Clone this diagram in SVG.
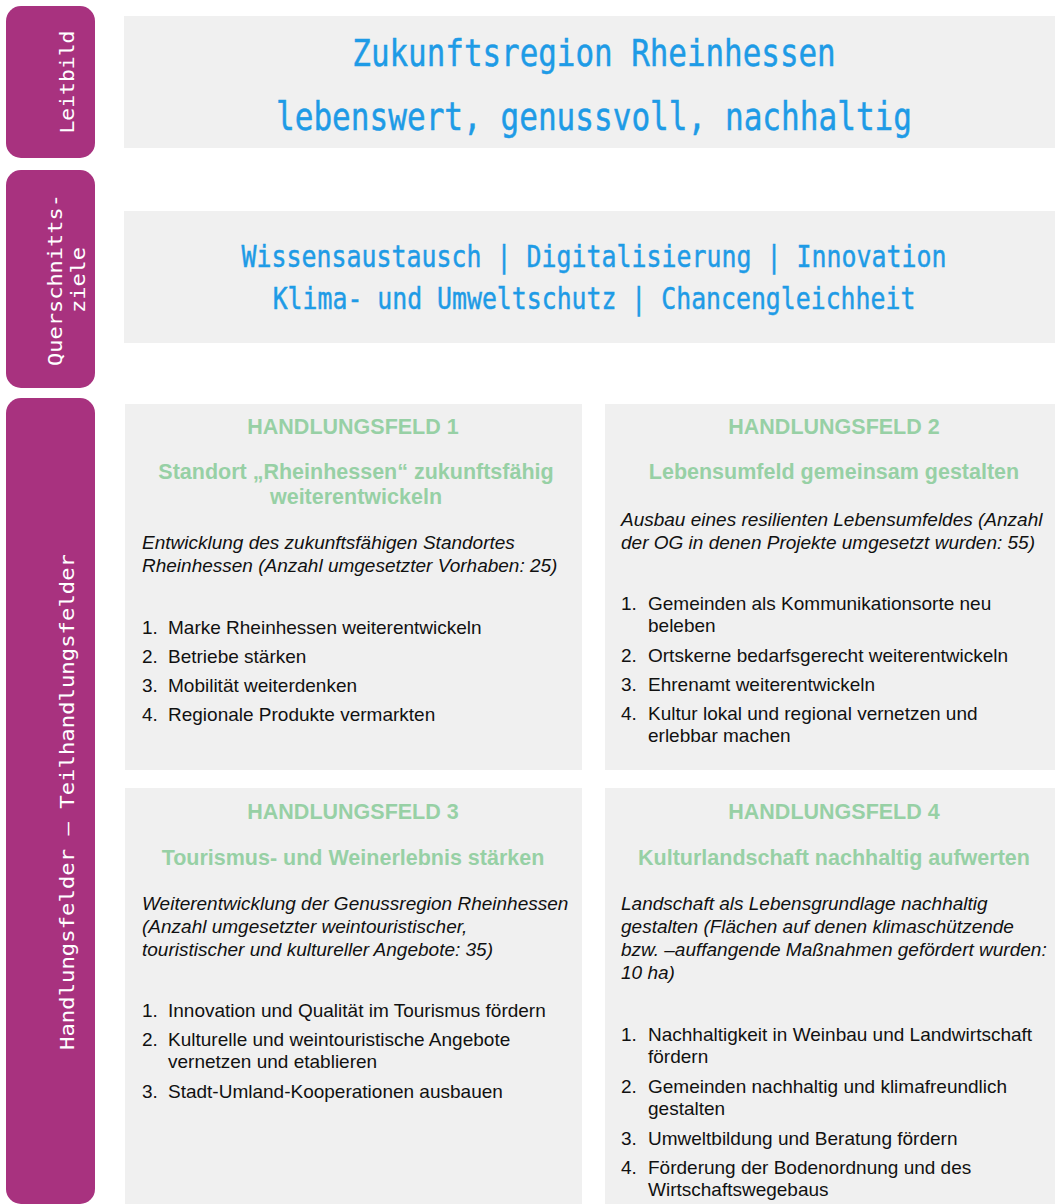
<svg xmlns="http://www.w3.org/2000/svg" width="1055" height="1204" viewBox="0 0 1055 1204">
<style>
.side{fill:#A8327F}
.panel{fill:#F0F0F0}
.lbl{font-family:"DejaVu Sans Mono","Liberation Mono",monospace;fill:#FFFFFF;font-size:19px;text-anchor:middle}
.ttl{font-family:"DejaVu Sans Mono","Liberation Mono",monospace;fill:#1E9BE6;text-anchor:middle;stroke:#1E9BE6;stroke-width:0.5}
.hd{font-family:"Liberation Sans",Arial,sans-serif;font-weight:bold;fill:#97D0A5;text-anchor:middle;font-size:21.5px}
.it{font-family:"Liberation Sans",Arial,sans-serif;font-style:italic;font-size:19px;fill:#111}
.li{font-family:"Liberation Sans",Arial,sans-serif;font-size:19px;fill:#111}
</style>
<rect width="1055" height="1204" fill="#FFFFFF"/>
<g id="leitbild-label">
<rect class="side" x="6" y="6" width="89" height="152" rx="15"/>
<text class="lbl" transform="translate(74,82) rotate(-90)" textLength="103" lengthAdjust="spacingAndGlyphs">Leitbild</text>
</g>
<g id="querschnitt-label">
<rect class="side" x="6" y="170" width="89" height="218" rx="15"/>
<text class="lbl" transform="translate(62,280) rotate(-90)" textLength="172" lengthAdjust="spacingAndGlyphs">Querschnitts-</text>
<text class="lbl" transform="translate(85,280) rotate(-90)" textLength="66" lengthAdjust="spacingAndGlyphs">ziele</text>
</g>
<g id="handlungsfelder-label">
<rect class="side" x="6" y="398" width="89" height="806" rx="15"/>
<text class="lbl" transform="translate(74,802) rotate(-90)" textLength="496" lengthAdjust="spacingAndGlyphs">Handlungsfelder – Teilhandlungsfelder</text>
</g>
<g id="leitbild">
<rect class="panel" x="124" y="16" width="931" height="132"/>
<text class="ttl" transform="translate(594,66) scale(0.813,1)" font-size="38">Zukunftsregion Rheinhessen</text>
<text class="ttl" transform="translate(594,130) scale(0.797,1)" font-size="39">lebenswert, genussvoll, nachhaltig</text>
</g>
<g id="querschnittsziele">
<rect class="panel" x="124" y="211" width="931" height="132"/>
<text class="ttl" transform="translate(594,267) scale(0.804,1)" font-size="31">Wissensaustausch | Digitalisierung | Innovation</text>
<text class="ttl" transform="translate(594,309) scale(0.801,1)" font-size="31">Klima- und Umweltschutz | Chancengleichheit</text>
</g>
<g id="handlungsfeld-1">
<rect class="panel" x="125" y="404" width="457" height="366"/>
<text class="hd" x="353" y="434">HANDLUNGSFELD 1</text>
<text class="hd" x="356" y="479">Standort „Rheinhessen“ zukunftsfähig</text>
<text class="hd" x="356" y="504">weiterentwickeln</text>
<text class="it" x="142" y="549">Entwicklung des zukunftsfähigen Standortes</text>
<text class="it" x="142" y="572">Rheinhessen (Anzahl umgesetzter Vorhaben: 25)</text>
<text class="li" x="142" y="634">1.</text><text class="li" x="168" y="634">Marke Rheinhessen weiterentwickeln</text>
<text class="li" x="142" y="663">2.</text><text class="li" x="168" y="663">Betriebe stärken</text>
<text class="li" x="142" y="692">3.</text><text class="li" x="168" y="692">Mobilität weiterdenken</text>
<text class="li" x="142" y="721">4.</text><text class="li" x="168" y="721">Regionale Produkte vermarkten</text>
</g>
<g id="handlungsfeld-2">
<rect class="panel" x="605" y="404" width="450" height="366"/>
<text class="hd" x="834" y="434">HANDLUNGSFELD 2</text>
<text class="hd" x="834" y="479">Lebensumfeld gemeinsam gestalten</text>
<text class="it" x="621" y="526">Ausbau eines resilienten Lebensumfeldes (Anzahl</text>
<text class="it" x="621" y="549">der OG in denen Projekte umgesetzt wurden: 55)</text>
<text class="li" x="621" y="610">1.</text><text class="li" x="648" y="610">Gemeinden als Kommunikationsorte neu</text>
<text class="li" x="648" y="632">beleben</text>
<text class="li" x="621" y="662">2.</text><text class="li" x="648" y="662">Ortskerne bedarfsgerecht weiterentwickeln</text>
<text class="li" x="621" y="691">3.</text><text class="li" x="648" y="691">Ehrenamt weiterentwickeln</text>
<text class="li" x="621" y="720">4.</text><text class="li" x="648" y="720">Kultur lokal und regional vernetzen und</text>
<text class="li" x="648" y="742">erlebbar machen</text>
</g>
<g id="handlungsfeld-3">
<rect class="panel" x="125" y="788" width="457" height="416"/>
<text class="hd" x="353" y="819">HANDLUNGSFELD 3</text>
<text class="hd" x="353" y="865">Tourismus- und Weinerlebnis stärken</text>
<text class="it" x="142" y="910">Weiterentwicklung der Genussregion Rheinhessen</text>
<text class="it" x="142" y="933">(Anzahl umgesetzter weintouristischer,</text>
<text class="it" x="142" y="956">touristischer und kultureller Angebote: 35)</text>
<text class="li" x="142" y="1017">1.</text><text class="li" x="168" y="1017">Innovation und Qualität im Tourismus fördern</text>
<text class="li" x="142" y="1046">2.</text><text class="li" x="168" y="1046">Kulturelle und weintouristische Angebote</text>
<text class="li" x="168" y="1068">vernetzen und etablieren</text>
<text class="li" x="142" y="1098">3.</text><text class="li" x="168" y="1098">Stadt-Umland-Kooperationen ausbauen</text>
</g>
<g id="handlungsfeld-4">
<rect class="panel" x="605" y="788" width="450" height="416"/>
<text class="hd" x="834" y="819">HANDLUNGSFELD 4</text>
<text class="hd" x="834" y="865">Kulturlandschaft nachhaltig aufwerten</text>
<text class="it" x="621" y="910">Landschaft als Lebensgrundlage nachhaltig</text>
<text class="it" x="621" y="933">gestalten (Flächen auf denen klimaschützende</text>
<text class="it" x="621" y="956">bzw. –auffangende Maßnahmen gefördert wurden:</text>
<text class="it" x="621" y="979">10 ha)</text>
<text class="li" x="621" y="1041">1.</text><text class="li" x="648" y="1041">Nachhaltigkeit in Weinbau und Landwirtschaft</text>
<text class="li" x="648" y="1063">fördern</text>
<text class="li" x="621" y="1093">2.</text><text class="li" x="648" y="1093">Gemeinden nachhaltig und klimafreundlich</text>
<text class="li" x="648" y="1115">gestalten</text>
<text class="li" x="621" y="1145">3.</text><text class="li" x="648" y="1145">Umweltbildung und Beratung fördern</text>
<text class="li" x="621" y="1174">4.</text><text class="li" x="648" y="1174">Förderung der Bodenordnung und des</text>
<text class="li" x="648" y="1196">Wirtschaftswegebaus</text>
</g>
<g id="connectors"/>
</svg>
